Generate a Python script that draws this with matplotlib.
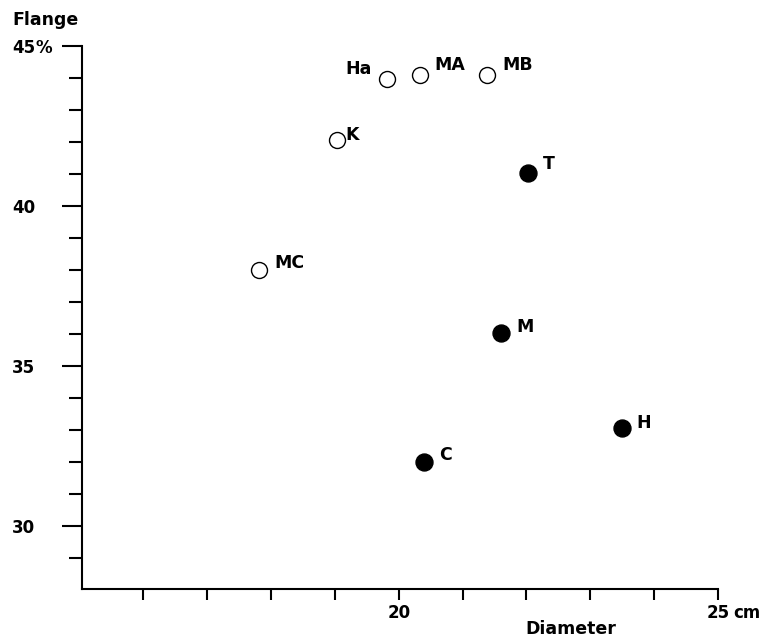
import matplotlib
matplotlib.use("Agg")
import matplotlib.pyplot as plt
from matplotlib.ticker import FixedLocator

plt.rcParams["font.family"] = ["DejaVu Sans"]
plt.rcParams["font.weight"] = "bold"

# data
open_names = ["Ha", "MA", "MB", "K", "MC"]
open_diam = [19.81, 20.33, 21.39, 19.03, 17.81]
open_flange = [43.97, 44.1, 44.1, 42.06, 38.0]

filled_names = ["T", "M", "H", "C"]
filled_diam = [22.02, 21.6, 23.5, 20.4]
filled_flange = [41.03, 36.03, 33.06, 32.0]

x_ticks = [16, 17, 18, 19, 20, 21, 22, 23, 24, 25]
x_tick_labels = ["", "", "", "", "20", "", "", "", "", "25"]
y_ticks = [30, 35, 40, 45]
y_tick_labels = ["30", "35", "40", "45"]
y_minor = [29, 31, 32, 33, 34, 36, 37, 38, 39, 41, 42, 43, 44]

# label offsets in points (layout only)
open_offsets = [(-10.8, 7.5), (10.8, 6.8), (10.8, 6.8), (6.5, 4.0), (11.5, 5.3)]
filled_offsets = [(10.8, 6.8), (11.5, 4.6), (10.0, 3.9), (10.8, 5.3)]

FS = 12.5

fig = plt.figure(figsize=(7.63, 6.4), dpi=100)
ax = fig.add_axes([82 / 763, 1 - 589 / 640, (718 - 82) / 763, (589 - 46) / 640])

ax.plot(open_diam, open_flange, "o", ms=11.5, mfc="white", mec="black", mew=1.0, ls="none")
ax.plot(filled_diam, filled_flange, "o", ms=12.2, mfc="black", mec="black", ls="none")

for name, x, y, off in zip(open_names, open_diam, open_flange, open_offsets):
    ax.annotate(name, (x, y), xytext=off, textcoords="offset points",
                ha="right" if off[0] < 0 else "left", va="center",
                fontsize=FS, fontweight="bold")
for name, x, y, off in zip(filled_names, filled_diam, filled_flange, filled_offsets):
    ax.annotate(name, (x, y), xytext=off, textcoords="offset points",
                ha="left", va="center", fontsize=FS, fontweight="bold")

ax.set_xlim(15.04, 25)
ax.set_ylim(28.03, 45)
for s in ("top", "right"):
    ax.spines[s].set_visible(False)
for s in ("left", "bottom"):
    ax.spines[s].set_linewidth(1.5)

ax.set_xticks(x_ticks)
ax.set_xticklabels(x_tick_labels)
ax.set_yticks(y_ticks)
ax.set_yticklabels(y_tick_labels)
ax.yaxis.set_minor_locator(FixedLocator(y_minor))
ax.tick_params(axis="x", direction="out", length=8, width=1.5, pad=2.5, labelsize=12)
ax.tick_params(axis="y", which="major", direction="out", length=14.4, width=1.5, pad=19.5, labelsize=12)
ax.tick_params(axis="y", which="minor", direction="out", length=9.4, width=1.5)
for lbl in ax.get_xticklabels() + ax.get_yticklabels():
    lbl.set_fontweight("bold")

# unit marks next to the end tick labels
ax.annotate("cm", (25, 0), xycoords=("data", "axes fraction"), xytext=(10.8, -10.5),
            textcoords="offset points", ha="left", va="top", fontsize=12, fontweight="bold")
ax.annotate("%", (0, 45), xycoords=("axes fraction", "data"), xytext=(-33.8, 0),
            textcoords="offset points", ha="left", va="center_baseline", fontsize=12, fontweight="bold")

fig.text(12 / 763, 1 - 25 / 640, "Flange", ha="left", va="baseline", fontsize=FS, fontweight="bold")
fig.text(571 / 763, 2 / 640, "Diameter", ha="center", va="bottom", fontsize=FS, fontweight="bold")

fig.savefig("out.png", dpi=100)
plt.close(fig)
